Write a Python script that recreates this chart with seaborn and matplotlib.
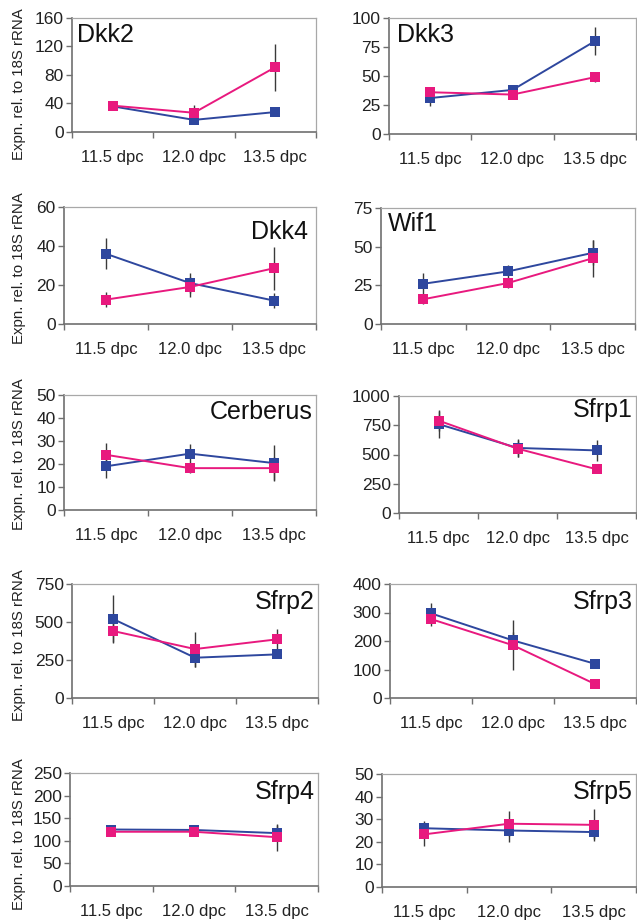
import numpy as np
import pandas as pd
import matplotlib
matplotlib.use("Agg")
import matplotlib.pyplot as plt
import seaborn as sns

sns.set_style("white")
plt.rcParams['font.family'] = ['Liberation Sans', 'DejaVu Sans']

stages = ["11.5 dpc", "12.0 dpc", "13.5 dpc"]
genes = ["Dkk2", "Dkk3", "Dkk4", "Wif1", "Cerberus", "Sfrp1", "Sfrp2", "Sfrp3", "Sfrp4", "Sfrp5"]

blue_vals = {
    "Dkk2": [36, 17, 28], "Dkk3": [31, 38, 80], "Dkk4": [36, 21, 12],
    "Wif1": [26, 34, 46], "Cerberus": [19, 24.5, 20.4], "Sfrp1": [760, 556, 535],
    "Sfrp2": [520, 265, 287], "Sfrp3": [297, 202, 120], "Sfrp4": [125, 124, 117],
    "Sfrp5": [26, 25, 24.3],
}
blue_err = {
    "Dkk2": [2, 2, 3], "Dkk3": [7, 4, 12], "Dkk4": [8, 5, 4],
    "Wif1": [7, 4, 8], "Cerberus": [5, 4, 8], "Sfrp1": [115, 80, 90],
    "Sfrp2": [160, 60, 20], "Sfrp3": [35, 30, 6], "Sfrp4": [8, 8, 18],
    "Sfrp5": [3, 5, 3],
}
pink_vals = {
    "Dkk2": [37, 27, 91], "Dkk3": [36, 34, 49], "Dkk4": [12.5, 19, 28.6],
    "Wif1": [16, 26.5, 42.5], "Cerberus": [24, 18.2, 18.2], "Sfrp1": [790, 550, 374],
    "Sfrp2": [441, 322, 386], "Sfrp3": [277, 185, 49], "Sfrp4": [120, 120, 108],
    "Sfrp5": [23.3, 28, 27.5],
}
pink_err = {
    "Dkk2": [2, 11, 33], "Dkk3": [4, 4, 4], "Dkk4": [4, 5, 11],
    "Wif1": [3, 3, 12], "Cerberus": [5, 2, 5], "Sfrp1": [90, 70, 30],
    "Sfrp2": [70, 115, 65], "Sfrp3": [25, 88, 5], "Sfrp4": [10, 10, 30],
    "Sfrp5": [5, 5.5, 7],
}
ymax = {"Dkk2": 160, "Dkk3": 100, "Dkk4": 60, "Wif1": 75, "Cerberus": 50,
        "Sfrp1": 1000, "Sfrp2": 750, "Sfrp3": 400, "Sfrp4": 250, "Sfrp5": 50}
ystep = {"Dkk2": 40, "Dkk3": 25, "Dkk4": 20, "Wif1": 25, "Cerberus": 10,
         "Sfrp1": 250, "Sfrp2": 250, "Sfrp3": 100, "Sfrp4": 50, "Sfrp5": 10}
label_side = {"Dkk2": "left", "Dkk3": "left", "Dkk4": "right", "Wif1": "left",
              "Cerberus": "right", "Sfrp1": "right", "Sfrp2": "right",
              "Sfrp3": "right", "Sfrp4": "right", "Sfrp5": "right"}

# axes boxes in pixels: left, right, top, bottom
boxes = {
    "Dkk2": (72, 316, 18, 132), "Dkk3": (389, 636, 18, 134),
    "Dkk4": (64, 316, 207, 324), "Wif1": (381, 635, 208, 324),
    "Cerberus": (64, 316, 395, 510), "Sfrp1": (399, 636, 396, 513),
    "Sfrp2": (72, 318, 584, 698), "Sfrp3": (390, 636, 584, 698),
    "Sfrp4": (70, 318, 773, 886), "Sfrp5": (382, 636, 774, 887),
}
label_off = {"Dkk2": (5, -17), "Dkk3": (8, -17), "Dkk4": (-8, -25), "Wif1": (7, -16),
             "Cerberus": (-3, -17), "Sfrp1": (-3, -14), "Sfrp2": (-3, -18),
             "Sfrp3": (-3, -18), "Sfrp4": (-3, -19), "Sfrp5": (-3, -18)}
# y-label centre (pixels from top) for left-column panels
ylab_center = {"Dkk2": 84, "Dkk4": 268, "Cerberus": 454, "Sfrp2": 645, "Sfrp4": 834}
YLAB_RIGHT_PX = 26

BLUE = "#2E479E"
PINK = "#E8197E"
W, H = 637, 924
fig = plt.figure(figsize=(W / 100, H / 100), dpi=100)

for i, g in enumerate(genes):
    l, r, t, b = boxes[g]
    ax = fig.add_axes([l / W, 1 - b / H, (r - l) / W, (b - t) / H])
    pos = np.arange(len(stages))
    df = pd.DataFrame({
        "pos": np.concatenate([pos, pos]),
        "value": blue_vals[g] + pink_vals[g],
        "err": blue_err[g] + pink_err[g],
        "series": ["blue"] * 3 + ["pink"] * 3,
    })
    ax.errorbar(df["pos"], df["value"], yerr=df["err"], fmt="none",
                ecolor="#3a3a3a", elinewidth=1.0, capsize=0, zorder=1)
    sns.lineplot(data=df, x="pos", y="value", hue="series",
                 palette={"blue": BLUE, "pink": PINK}, marker="s", markersize=6.5,
                 markeredgewidth=0, linewidth=1.4, sort=False, ax=ax,
                 legend=False, zorder=3)
    ax.set_xlim(-0.5, len(stages) - 0.5)
    ax.set_ylim(0, ymax[g])
    ax.set_yticks(np.arange(0, ymax[g] + 1, ystep[g]))
    ax.set_xticks(pos)
    ax.set_xticklabels(stages)
    ax.set_xticks(np.arange(-0.5, len(stages), 1.0), minor=True)
    ax.tick_params(axis="x", which="major", length=0, pad=13, labelsize=12, labelcolor="#222222")
    ax.tick_params(axis="x", which="minor", length=4, width=1.0, color="#707070", direction="out", bottom=True)
    ax.tick_params(axis="y", which="major", length=4, width=1.0, color="#707070", direction="out",
                   left=True, pad=2, labelsize=12.5, labelcolor="#222222")
    ax.set_xlabel("")
    if g in ylab_center:
        ax.set_ylabel("Expn. rel. to 18S rRNA", fontsize=10.8, color="#222222")
        ax.yaxis.set_label_coords((YLAB_RIGHT_PX - l) / (r - l),
                                  (b - ylab_center[g]) / (b - t))
    else:
        ax.set_ylabel("")
    for s in ["left", "bottom"]:
        ax.spines[s].set_color("#707070")
        ax.spines[s].set_linewidth(1.2)
    for s in ["top", "right"]:
        ax.spines[s].set_color("#a8a8a8")
        ax.spines[s].set_linewidth(0.9)
    side = label_side[g]
    ax.annotate(g, xy=(0 if side == "left" else 1, 1), xycoords="axes fraction",
                xytext=label_off[g], textcoords="offset pixels",
                ha=side, va="center", fontsize=18, color="#111111")

fig.savefig("out.png", dpi=100)
